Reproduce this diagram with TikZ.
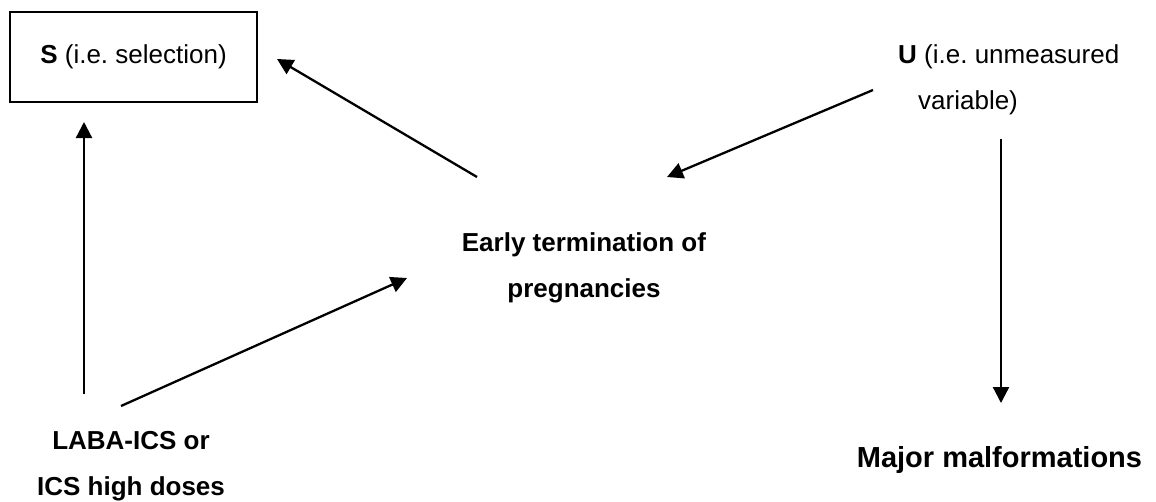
\documentclass[tikz,border=0pt]{standalone}
\usepackage{fontspec}
\setmainfont{Liberation Sans}
\usetikzlibrary{arrows.meta}
\frenchspacing
\begin{document}
\begin{tikzpicture}[x=1pt,y=-1pt,
  lbl/.style={font=\fontsize{26}{46}\selectfont, inner sep=0pt, align=center},
  arr/.style={line width=2.3pt, -{Triangle[length=16pt,width=16pt]}}]
\useasboundingbox (0,0) rectangle (1156,501);
\node[draw, line width=2.3pt, minimum width=247pt, minimum height=90pt, inner sep=0pt,
      font=\fontsize{26}{46}\selectfont] (S) at (133.5,57) {\textbf{S} (i.e. selection)};
\node[lbl, anchor=base] (E) at (584,297) {\textbf{Early termination of}\\\textbf{pregnancies}};
\node[lbl, align=left, anchor=base west] (U) at (898,109) {\textbf{U} (i.e. unmeasured\\\hspace*{20pt}variable)};
\node[lbl, anchor=base] (L) at (131,495) {\textbf{LABA-ICS or}\\\textbf{ICS high doses}};
\node[lbl, font=\fontsize{29}{46}\selectfont, anchor=base] (M) at (999.5,467) {\textbf{Major malformations}};
\coordinate (e1) at (477,177); \coordinate (s1) at (277,59);
\coordinate (u1) at (873,90); \coordinate (e2) at (667,177);
\coordinate (u2) at (1001,139); \coordinate (m1) at (1001,403);
\coordinate (l1) at (84,394); \coordinate (s2) at (84,122);
\coordinate (l2) at (121,406); \coordinate (e3) at (407,278);
\draw[arr] (e1) -- (s1);
\draw[arr] (u1) -- (e2);
\draw[arr] (u2) -- (m1);
\draw[arr] (l1) -- (s2);
\draw[arr] (l2) -- (e3);
\end{tikzpicture}
\end{document}
